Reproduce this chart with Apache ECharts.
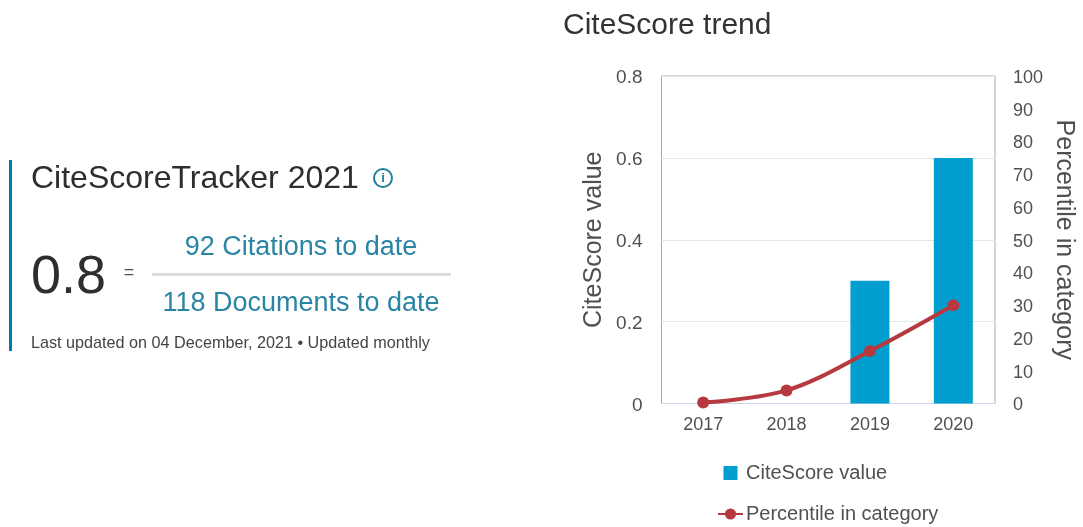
<!DOCTYPE html>
<html>
<head>
<meta charset="utf-8">
<style>
html,body{margin:0;padding:0;background:#fff}
#main{width:1083px;height:527px}
</style>
<script src="https://cdn.jsdelivr.net/npm/echarts@6/dist/echarts.min.js"></script>
</head>
<body>
<div id="main"></div>
<script>
var years = ['2017', '2018', '2019', '2020'];
var citeScore = [0, 0, 0.3, 0.6];
var percentile = [0.3, 4, 16, 30];

var fontName = '"Liberation Sans", Arial, sans-serif';
var chart = echarts.init(document.getElementById('main'));
chart.setOption({
    animation: false,
    backgroundColor: '#fff',
    textStyle: { fontFamily: fontName },
    title: {
        text: 'CiteScore trend',
        left: 563,
        top: 11,
        padding: 0,
        textStyle: { fontSize: 30, fontWeight: 'normal', color: '#333', fontFamily: fontName }
    },
    grid: {
        left: 661.5,
        top: 76,
        width: 333.5,
        height: 327.5,
        show: true,
        borderColor: '#aaa',
        borderWidth: 1
    },
    legend: {
        orient: 'vertical',
        left: 717,
        top: 463,
        padding: 0,
        itemWidth: 25,
        itemHeight: 14,
        itemGap: 21,
        itemStyle: { borderWidth: 0 },
        textStyle: { fontSize: 20, color: '#505050', fontFamily: fontName, padding: [0, 0, 0, -2] },
        data: [
            { name: 'CiteScore value', icon: 'path://M0 0H14V14H0Z' },
            { name: 'Percentile in category' }
        ]
    },
    xAxis: {
        type: 'category',
        data: years,
        axisTick: { show: false },
        axisLine: { lineStyle: { color: '#ccd6eb', width: 1 } },
        axisLabel: { fontSize: 18, color: '#505050', margin: 13 }
    },
    yAxis: [{
        type: 'value',
        min: 0,
        max: 0.8,
        interval: 0.2,
        name: 'CiteScore value',
        nameLocation: 'middle',
        nameGap: 55,
        nameTextStyle: { fontSize: 25, color: '#505050' },
        axisLine: { show: false },
        axisTick: { show: false },
        axisLabel: {
            margin: 19,
            formatter: '{v|{value}}',
            rich: { v: { fontSize: 19, color: '#505050', fontFamily: fontName, padding: [4, 0, 0, 0] } }
        },
        splitLine: { lineStyle: { color: '#e6e6e6', width: 1 } }
    }, {
        type: 'value',
        min: 0,
        max: 100,
        interval: 10,
        name: 'Percentile in category',
        nameLocation: 'middle',
        nameGap: 56,
        nameRotate: -90,
        nameTextStyle: { fontSize: 25, color: '#505050' },
        axisLine: { show: false },
        axisTick: { show: false },
        axisLabel: {
            margin: 18,
            formatter: '{v|{value}}',
            rich: { v: { fontSize: 18, color: '#505050', fontFamily: fontName, padding: [4, 0, 0, 0] } }
        },
        splitLine: { show: false }
    }],
    series: [{
        name: 'CiteScore value',
        type: 'bar',
        yAxisIndex: 0,
        data: citeScore,
        barWidth: 39,
        itemStyle: { color: '#009fcf' }
    }, {
        name: 'Percentile in category',
        type: 'line',
        yAxisIndex: 1,
        data: percentile,
        smooth: 0.35,
        symbol: 'circle',
        symbolSize: 12,
        lineStyle: { color: '#b5393f', width: 4 },
        itemStyle: { color: '#b5393f' }
    }],
    // left hand panel, plain text and shapes
    graphic: [
        { type: 'rect', shape: { x: 9, y: 160, width: 3, height: 191 }, style: { fill: '#007cb4' } },
        { type: 'text', x: 31, y: 163, style: { text: 'CiteScoreTracker 2021', fontSize: 32, fontFamily: fontName, fill: '#2e2e2e' } },
        { type: 'circle', shape: { cx: 383, cy: 178, r: 9 }, style: { fill: 'none', stroke: '#1f7f9f', lineWidth: 2 } },
        { type: 'text', x: 383, y: 178, style: { text: 'i', fontSize: 13, fontWeight: 'bold', fontFamily: fontName, fill: '#1f7f9f', align: 'center', verticalAlign: 'middle' } },
        { type: 'text', x: 31, y: 251, style: { text: '0.8', fontSize: 54, fontFamily: fontName, fill: '#2e2e2e' } },
        { type: 'text', x: 129, y: 273, style: { text: '=', fontSize: 18, fontFamily: fontName, fill: '#505050', align: 'center', verticalAlign: 'middle' } },
        { type: 'text', x: 301, y: 248, style: { text: '92 Citations to date', fontSize: 27, fontFamily: fontName, fill: '#2a84a3', align: 'center', verticalAlign: 'middle' } },
        { type: 'rect', shape: { x: 152, y: 273, width: 299, height: 3 }, style: { fill: '#dcdcdc' } },
        { type: 'text', x: 301, y: 304, style: { text: '118 Documents to date', fontSize: 27, fontFamily: fontName, fill: '#2a84a3', align: 'center', verticalAlign: 'middle' } },
        { type: 'text', x: 31, y: 336, style: { text: 'Last updated on 04 December, 2021 \u2022 Updated monthly', fontSize: 16.2, fontFamily: fontName, fill: '#444' } }
    ]
});
</script>
</body>
</html>
